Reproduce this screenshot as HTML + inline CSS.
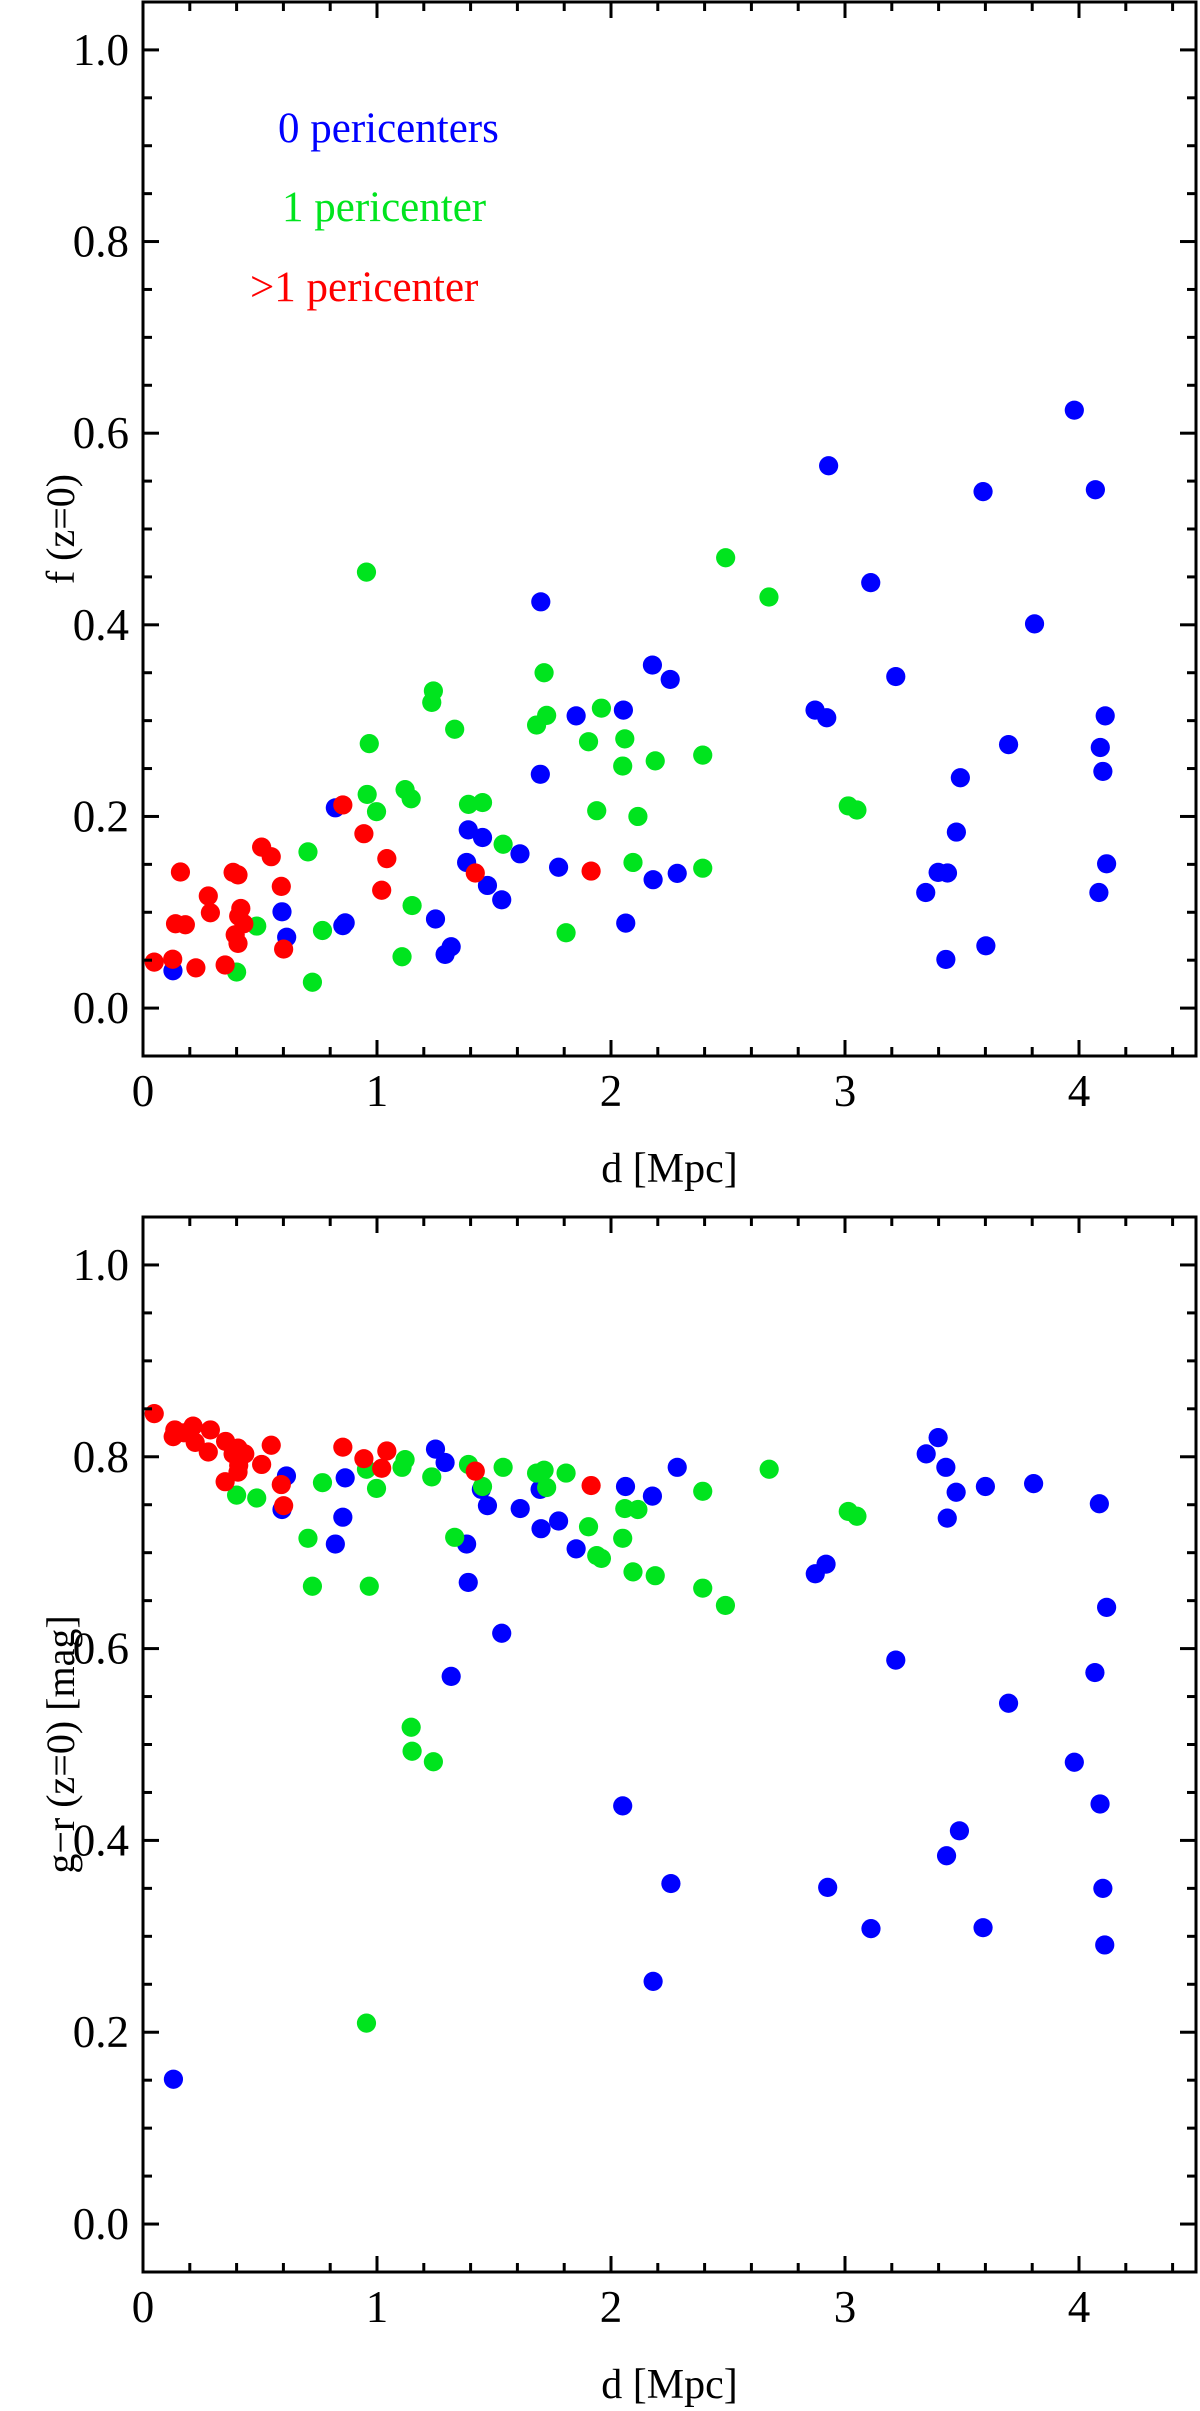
<!DOCTYPE html>
<html><head><meta charset="utf-8">
<style>
html,body{margin:0;padding:0;background:#fff;}
svg{display:block;}
text{font-family:"Liberation Serif","DejaVu Serif",serif;}
</style></head>
<body>
<svg id="fig" width="1200" height="2411" viewBox="0 0 1200 2411" xmlns="http://www.w3.org/2000/svg">
  <g id="top-panel"></g>
  <g id="bot-panel"></g>
  <g>
    <text x="278" y="142" font-size="43" fill="#0000ff">0 pericenters</text>
    <text x="282" y="221" font-size="43" fill="#00e41e">1 pericenter</text>
    <text x="250" y="301" font-size="43" fill="#ff0000">&gt;1 pericenter</text>
  </g>
</svg>
<script>
// ---- top panel data: f(z=0) vs d ----
const topBlueD = [0.128,0.594,0.614,0.822,0.854,0.864,1.25,1.291,1.317,1.39,1.451,1.383,1.472,1.533,1.611,1.698,1.851,2.053,1.776,2.063,2.177,2.18,2.253,2.283,3.217,2.872,2.922,3.493,3.699,4.112,4.091,4.102,3.476,3.398,3.438,3.345,4.118,4.085,3.431,3.602,3.98,2.93,3.59,4.07,1.70,3.11,3.81];
const topBlueF = [0.039,0.1005,0.074,0.209,0.086,0.089,0.093,0.056,0.064,0.186,0.178,0.152,0.128,0.113,0.161,0.244,0.305,0.311,0.147,0.0887,0.358,0.134,0.343,0.1406,0.346,0.311,0.303,0.2404,0.275,0.305,0.272,0.247,0.1837,0.1416,0.141,0.1206,0.1506,0.1206,0.0508,0.065,0.624,0.566,0.539,0.541,0.424,0.444,0.401];
const topGreenD = [0.4,0.486,0.705,0.724,0.767,0.967,0.958,0.998,1.107,1.12,1.146,1.15,1.241,1.234,1.332,1.391,1.451,1.539,1.714,1.725,1.682,1.808,1.904,1.959,1.939,2.059,2.05,2.115,2.094,2.189,2.392,2.392,3.014,3.051,0.955,2.49,2.675];
const topGreenF = [0.0376,0.0856,0.163,0.027,0.081,0.276,0.223,0.205,0.0536,0.228,0.2185,0.107,0.331,0.319,0.291,0.2126,0.2145,0.171,0.35,0.3055,0.2954,0.0786,0.278,0.313,0.206,0.281,0.2526,0.2,0.152,0.258,0.264,0.146,0.211,0.2067,0.455,0.47,0.429];
const topRedD = [0.048,0.127,0.226,0.351,0.16,0.139,0.181,0.279,0.288,0.385,0.406,0.418,0.409,0.431,0.394,0.406,0.507,0.548,0.591,0.601,0.854,0.944,1.042,1.02,1.42,1.915];
const topRedF = [0.048,0.051,0.042,0.045,0.142,0.088,0.087,0.117,0.0995,0.1416,0.139,0.104,0.096,0.088,0.0765,0.0675,0.168,0.158,0.127,0.0616,0.212,0.182,0.156,0.123,0.141,0.143];
// ---- bottom panel data: g-r (z=0) vs d ----
const botBlueD = [0.13,0.613,0.594,0.822,0.864,0.854,1.25,1.291,1.383,1.39,1.446,1.472,1.533,1.317,1.612,1.697,1.701,1.776,1.851,2.062,2.177,2.283,3.398,3.347,3.431,3.475,3.437,3.6,3.806,4.087,4.118,2.919,2.873,3.217,3.699,4.068,3.98,2.05,4.09,3.489,3.434,2.256,2.926,4.102,3.111,3.59,4.11,2.18];
const botBlueG = [0.151,0.78,0.745,0.709,0.778,0.737,0.808,0.794,0.709,0.669,0.766,0.749,0.616,0.571,0.746,0.766,0.725,0.733,0.704,0.769,0.759,0.789,0.82,0.803,0.789,0.763,0.736,0.769,0.772,0.751,0.643,0.688,0.678,0.588,0.543,0.575,0.4815,0.436,0.438,0.41,0.384,0.355,0.351,0.35,0.308,0.309,0.291,0.253];
const botGreenD = [0.4,0.486,0.705,0.767,0.724,0.967,0.955,0.998,1.107,1.12,1.146,1.15,1.241,1.234,1.332,1.391,1.451,1.539,1.682,1.714,1.725,1.808,1.904,1.939,1.959,2.059,2.115,2.05,2.094,2.189,2.392,2.392,2.489,2.676,3.014,3.051,0.955];
const botGreenG = [0.76,0.757,0.715,0.773,0.665,0.665,0.787,0.767,0.789,0.797,0.518,0.493,0.482,0.779,0.716,0.792,0.769,0.789,0.783,0.786,0.768,0.783,0.727,0.697,0.694,0.746,0.745,0.715,0.68,0.676,0.764,0.663,0.645,0.787,0.743,0.738,0.2095];
const botRedD = [0.048,0.129,0.136,0.175,0.214,0.223,0.288,0.279,0.353,0.406,0.435,0.385,0.409,0.406,0.351,0.507,0.548,0.591,0.601,0.854,0.944,1.042,1.02,1.42,1.915];
const botRedG = [0.845,0.821,0.828,0.825,0.832,0.815,0.828,0.805,0.816,0.809,0.803,0.803,0.791,0.784,0.774,0.792,0.812,0.771,0.749,0.81,0.798,0.806,0.788,0.785,0.77];
const xTicks = [0,1,2,3,4];
const yTicks = [0.0,0.2,0.4,0.6,0.8,1.0];
const yTickLabels = ["0.0","0.2","0.4","0.6","0.8","1.0"];

const NS = "http://www.w3.org/2000/svg";
const X0 = 143, X1 = 1196, XMIN = 0, XMAX = 4.5;
function xs(d){ return X0 + (d - XMIN) / (XMAX - XMIN) * (X1 - X0); }
function mk(tag, attrs, parent){
  const e = document.createElementNS(NS, tag);
  for (const k in attrs) e.setAttribute(k, attrs[k]);
  parent.appendChild(e); return e;
}
function panel(g, top, bottom, ymin, ymax, series, ytitle, prefix){
  const ys = v => bottom - (v - ymin) / (ymax - ymin) * (bottom - top);
  series.forEach(s => {
    const sg = mk('g', {}, g);
    
    
    s.x.forEach((d, i) => {
      const c = mk('circle', {cx: xs(d), cy: ys(s.y[i]), r: 9.6, fill: s.color}, sg);
      
      
    });
  });
  const fr = mk('rect', {x: X0, y: top, width: X1 - X0, height: bottom - top, fill: 'none', stroke: '#000', 'stroke-width': 3}, g);
  
  
  const tk = mk('g', {stroke: '#000', 'stroke-width': 3}, g);
  
  
  for (let i = 0; i <= 22; i++) {
    const d = i * 0.2; if (d > XMAX) break;
    const L = (i % 5 === 0) ? 16 : 9, x = xs(d);
    mk('line', {x1: x, y1: bottom, x2: x, y2: bottom - L}, tk);
    mk('line', {x1: x, y1: top, x2: x, y2: top + L}, tk);
  }
  for (let i = Math.ceil(ymin / 0.05 - 1e-6); i * 0.05 <= ymax + 1e-6; i++) {
    const v = i * 0.05, L = (i % 4 === 0) ? 16 : 9, y = ys(v);
    mk('line', {x1: X0, y1: y, x2: X0 + L, y2: y}, tk);
    mk('line', {x1: X1, y1: y, x2: X1 - L, y2: y}, tk);
  }
  xTicks.forEach(t => {
    const e = mk('text', {x: xs(t), y: bottom + 50, 'font-size': 45, 'text-anchor': 'middle'}, g);
    e.textContent = String(t);
    
    
  });
  yTicks.forEach((t, i) => {
    const e = mk('text', {x: 129, y: ys(t) + 15, 'font-size': 45, 'text-anchor': 'end'}, g);
    e.textContent = yTickLabels[i];
    
    
  });
  const xt = mk('text', {x: (X0 + X1) / 2, y: bottom + 126, 'font-size': 42, 'text-anchor': 'middle'}, g);
  xt.textContent = 'd [Mpc]';
  
  
  const cy = (top + bottom) / 2;
  const yt = mk('text', {x: 0, y: 0, 'font-size': 40, 'text-anchor': 'middle', transform: 'translate(74,' + cy + ') rotate(-90)'}, g);
  yt.textContent = ytitle;
  
  
}
const BLUE = '#0000ff', GREEN = '#00e41e', RED = '#ff0000';
panel(document.getElementById('top-panel'), 2, 1056, -0.05, 1.05, [
  {name: 'zero-pericenters', x: topBlueD, y: topBlueF, color: BLUE},
  {name: 'one-pericenter', x: topGreenD, y: topGreenF, color: GREEN},
  {name: 'multi-pericenter', x: topRedD, y: topRedF, color: RED}
], 'f (z=0)', 'top');
panel(document.getElementById('bot-panel'), 1217, 2272, -0.05, 1.05, [
  {name: 'zero-pericenters', x: botBlueD, y: botBlueG, color: BLUE},
  {name: 'one-pericenter', x: botGreenD, y: botGreenG, color: GREEN},
  {name: 'multi-pericenter', x: botRedD, y: botRedG, color: RED}
], 'g\u2212r (z=0) [mag]', 'bottom');
</script>
</body></html>
